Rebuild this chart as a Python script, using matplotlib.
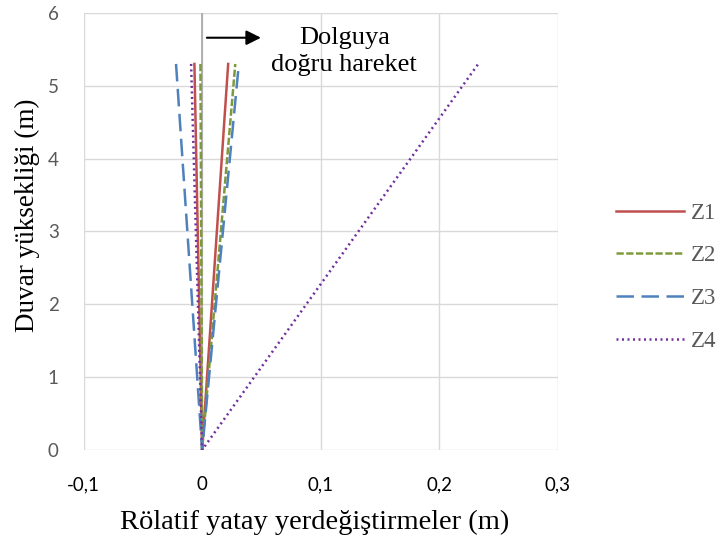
import matplotlib.pyplot as plt
from matplotlib.ticker import FuncFormatter

plt.rcParams['font.family'] = ['Liberation Serif', 'DejaVu Serif']

series = ["Z1", "Z2", "Z3", "Z4"]
# lateral displacement at wall top, left and right branch
neg_top = [-0.0065, -0.0014, -0.022, -0.0093]
pos_top = [0.022, 0.028, 0.031, 0.233]
height = [5.3, 0.0, 5.3]
colors = ["#C0504D", "#7F9A3C", "#4F81BD", "#7030A0"]
styles = ["-", (0, (2.9, 1.0)), (0, (7, 3)), (0, (0.8, 1.4))]

fig = plt.figure(figsize=(7.27, 5.4), dpi=100)
ax = fig.add_axes([0.115, 0.1667, 0.652, 0.8093])

for name, n, p, c, ls in zip(series, neg_top, pos_top, colors, styles):
    ax.plot([n, 0.0, p], height, color=c, linestyle=ls, linewidth=1.8, label=name)

ax.set_xlim(-0.1, 0.3)
ax.set_ylim(0, 6)
ax.set_xticks([-0.1, 0, 0.1, 0.2, 0.3])
ax.set_yticks(range(7))
ax.xaxis.set_major_formatter(FuncFormatter(lambda v, p: ("%g" % round(v, 2)).replace(".", ",")))
ax.grid(color="#D9D9D9", linewidth=1)
ax.set_axisbelow(True)
ax.axvline(0, color="#A6A6A6", linewidth=1.2, zorder=1)
for s in ax.spines.values():
    s.set_visible(False)
ax.tick_params(length=0, labelsize=13.5)
ax.tick_params(axis="x", pad=19, colors="#000000")
ax.tick_params(axis="y", pad=18, colors="#595959")
for t in ax.get_xticklabels() + ax.get_yticklabels():
    t.set_family(["Lato", "DejaVu Sans"])

ax.set_xlabel("Rölatif yatay yerdeğiştirmeler (m)", fontsize=20.5, color="black")
ax.set_ylabel("Duvar yüksekliği (m)", fontsize=19.5, color="black")
ax.xaxis.set_label_coords(0.487, -0.136)
ax.yaxis.set_label_coords(-0.092, 0.537)

ax.annotate("", xy=(0.052, 5.66), xytext=(0.0017, 5.66),
            arrowprops=dict(arrowstyle="-|>", color="black", lw=1.5, mutation_scale=22))
ax.text(0.120, 5.47, "Dolguya\ndoğru hareket", ha="center", va="center",
        fontsize=19, linespacing=1.3)

leg = ax.legend(loc="center left", bbox_to_anchor=(1.079, 0.395), frameon=False,
                fontsize=16.5, handlelength=3.0, labelspacing=0.95, handletextpad=0.3,
                labelcolor="#595959")

fig.savefig("out.png", dpi=100)
